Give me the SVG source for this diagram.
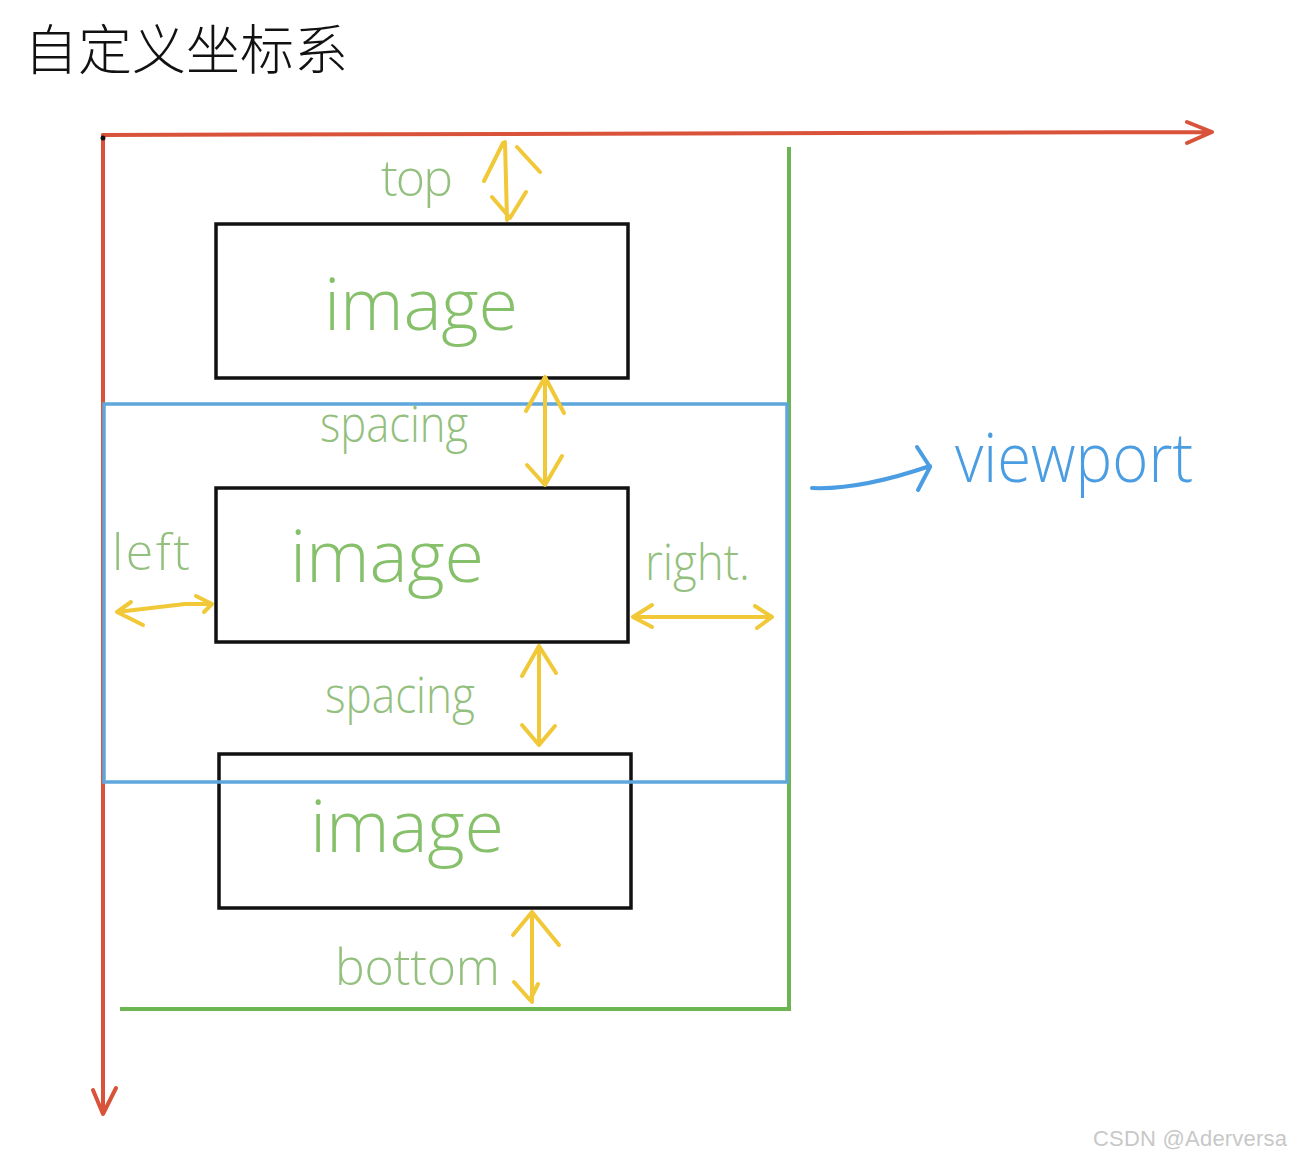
<svg xmlns="http://www.w3.org/2000/svg" width="1291" height="1160" viewBox="0 0 1291 1160">
<style>
.red{stroke:#d9533b;stroke-width:4;fill:none;stroke-linecap:round;stroke-linejoin:round}
.grn{stroke:#6db552;stroke-width:4;fill:none}
.blue{stroke:#5ea6dc;stroke-width:3.5;fill:none}
.box{stroke:#111;stroke-width:3.5;fill:none}
.yel{stroke:#f0c838;stroke-width:4;fill:none;stroke-linecap:round;stroke-linejoin:round}
.img{font-family:"Open Sans","DejaVu Sans",sans-serif;font-weight:300;font-size:72px;fill:#86c06a}
.lbl{font-family:"Open Sans","DejaVu Sans",sans-serif;font-weight:300;font-size:50px;fill:#93c07e}
</style>
<rect width="1291" height="1160" fill="#fff"/>
<text x="24" y="70" font-family="Noto Sans CJK SC, sans-serif" font-size="54" font-weight="300" fill="#111" textLength="324">自定义坐标系</text>
<g id="axes">
<path class="red" d="M103 135 L1212 132 M1187 122 L1212 132 L1187 143"/>
<path class="red" d="M103 135 L103 1113 M93 1090 L103 1114 L116 1088"/>
<circle cx="103" cy="138" r="2.5" fill="#111"/>
</g>
<g id="content-bounds">
<path class="grn" d="M789 147 L789 1008 M120 1009 L791 1009"/>
</g>
<g id="image1">
<rect class="box" x="216" y="224" width="412" height="154"/>
<text class="img" x="324" y="330" textLength="194">image</text>
</g>
<g id="image2">
<rect class="box" x="216" y="488" width="412" height="154"/>
<text class="img" x="290" y="582" textLength="194">image</text>
</g>
<g id="image3">
<rect class="box" x="219" y="754" width="412" height="154"/>
<text class="img" x="310" y="852" textLength="194">image</text>
</g>
<g id="viewport">
<rect class="blue" x="104" y="404" width="683" height="378"/>
<text x="955" y="482" font-family="Open Sans, sans-serif" font-weight="300" font-size="68" fill="#4a9de2" textLength="238" lengthAdjust="spacingAndGlyphs">viewport</text>
</g>
<g id="connectors">
<path class="yel" d="M505 142 L507 220 M484 181 L503 143 M517 147 L540 172 M492 197 L510 218 L526 192"/>
<path class="yel" d="M545 377 L545 485 M526 411 L545 377 L564 413 M527 465 L545 485 L562 456"/>
<path class="yel" d="M539 646 L539 745 M522 676 L539 646 L556 673 M522 725 L539 745 L555 726"/>
<path class="yel" d="M532 912 L532 1002 M513 935 L532 912 L559 945 M514 982 L530 1000 L538 984"/>
<path class="yel" d="M117 612 L185 604 L212 604 M131 602 L117 612 L143 625 M196 596 L212 604 L204 612"/>
<path class="yel" d="M633 617 L772 617 M652 605 L633 617 L652 627 M755 606 L772 617 L757 628"/>
<path d="M812 488 Q860 490 930 466 M917 447 L930 467 L918 490" stroke="#4a9de2" stroke-width="4" fill="none" stroke-linecap="round"/>
</g>
<g id="labels">
<text class="lbl" x="381" y="196" textLength="72">top</text>
<text class="lbl" x="320" y="442" textLength="148" lengthAdjust="spacingAndGlyphs">spacing</text>
<text class="lbl" x="112" y="570" textLength="78">left</text>
<text class="lbl" x="645" y="580" textLength="105" lengthAdjust="spacingAndGlyphs">right.</text>
<text class="lbl" x="325" y="713" textLength="150" lengthAdjust="spacingAndGlyphs">spacing</text>
<text class="lbl" x="335" y="985" font-size="56" textLength="165">bottom</text>
</g>
<text x="1093" y="1146" font-family="Liberation Sans, sans-serif" font-size="22" fill="#c8c8c8" textLength="194">CSDN @Aderversa</text>
</svg>
